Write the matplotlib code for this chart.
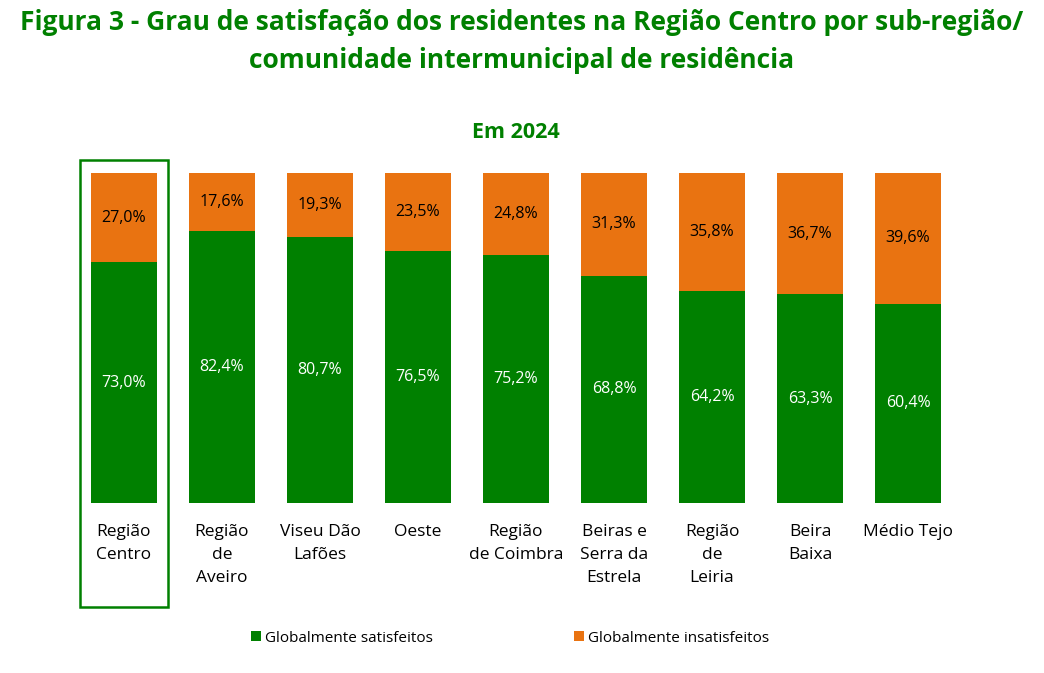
import numpy as np
import matplotlib.pyplot as plt
from matplotlib.patches import Rectangle

plt.rcParams['font.family'] = ['Open Sans', 'DejaVu Sans']

# dados
regioes = ['Região\nCentro', 'Região\nde\nAveiro', 'Viseu Dão\nLafões', 'Oeste',
           'Região\nde Coimbra', 'Beiras e\nSerra da\nEstrela', 'Região\nde\nLeiria',
           'Beira\nBaixa', 'Médio Tejo']
satisfeitos = [73.0, 82.4, 80.7, 76.5, 75.2, 68.8, 64.2, 63.3, 60.4]
insatisfeitos = [27.0, 17.6, 19.3, 23.5, 24.8, 31.3, 35.8, 36.7, 39.6]

verde = '#008000'
laranja = '#E97311'

fig = plt.figure(figsize=(10.44, 6.73), dpi=100)
ax = fig.add_axes([75/1044, 170/673, 882/1044, 330/673])

x = np.arange(len(regioes))
sat = np.array(satisfeitos)
ins = np.array(insatisfeitos)
ax.bar(x, sat, width=0.68, color=verde, label='Globalmente satisfeitos')
ax.bar(x, ins, width=0.68, bottom=sat, color=laranja, label='Globalmente insatisfeitos')

for i in range(len(x)):
    ax.text(x[i], sat[i]/2, ('%.1f%%' % sat[i]).replace('.', ','), ha='center', va='center',
            color='white', fontsize=11.5)
    ax.text(x[i], sat[i] + ins[i]/2, ('%.1f%%' % ins[i]).replace('.', ','), ha='center',
            va='center', color='black', fontsize=11.5)

ax.set_xlim(-0.5, len(x) - 0.5)
ax.set_ylim(0, 100)
ax.set_xticks(x)
ax.set_xticklabels(regioes, fontsize=12.5, va='top', linespacing=1.6)
ax.tick_params(axis='x', length=0, pad=15)
ax.set_yticks([])
for s in ax.spines.values():
    s.set_visible(False)

# caixa a destacar a Região Centro
ax.add_patch(Rectangle((-0.449, -31.5), 0.898, 135.4, fill=False, edgecolor=verde,
                       linewidth=1.8, clip_on=False))

fig.text(522/1044, 1 - 23/673, 'Figura 3 - Grau de satisfação dos residentes na Região Centro por sub-região/',
         ha='center', va='center', fontsize=19, fontweight='bold', color=verde)
fig.text(522/1044, 1 - 61/673, 'comunidade intermunicipal de residência',
         ha='center', va='center', fontsize=19, fontweight='bold', color=verde)
fig.text(516/1044, 1 - 132/673, 'Em 2024', ha='center', va='center', fontsize=15.5,
         fontweight='bold', color=verde)

h, l = ax.get_legend_handles_labels()
fig.legend(h, l, loc='center', bbox_to_anchor=(510/1044, 1 - 638/673), ncol=2,
           frameon=False, fontsize=11, columnspacing=9.2, handlelength=0.65,
           handleheight=0.65, handletextpad=0.3)

fig.savefig('out.png', dpi=100)
